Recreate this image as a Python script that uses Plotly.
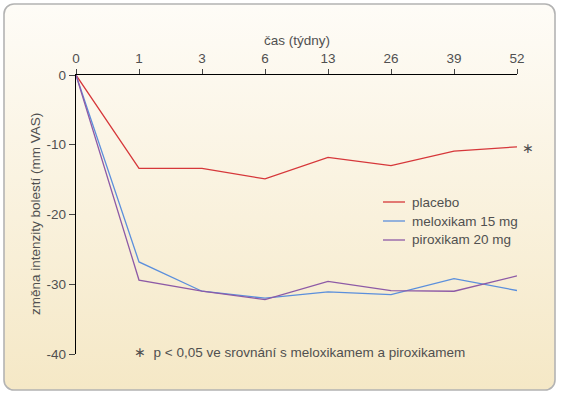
import plotly.graph_objects as go
import urllib.parse

weeks = ["0", "1", "3", "6", "13", "26", "39", "52"]
placebo = [0, -13.4, -13.4, -14.9, -11.8, -13.0, -10.9, -10.3]
meloxikam = [0, -26.8, -31.0, -32.0, -31.1, -31.5, -29.2, -30.9]
piroxikam = [0, -29.4, -31.0, -32.2, -29.6, -30.9, -31.0, -28.8]
series_names = ["placebo", "meloxikam 15 mg", "piroxikam 20 mg"]
colors = ["#d6373a", "#5b8fdc", "#8d5aa6"]
y_ticks = [0, -10, -20, -30, -40]

W, H = 561, 395
L, R, T, B = 76, 517, 75, 354
pw, ph = R - L, B - T

def px(x):
    return (x - L) / pw

def py(y):
    return (B - y) / ph

FONT = "Liberation Sans, Arial, sans-serif"
TXT = "#505050"

fig = go.Figure()
for name, vals, c in zip(series_names, [placebo, meloxikam, piroxikam], colors):
    fig.add_trace(go.Scatter(x=list(range(len(weeks))), y=vals, mode="lines", name=name,
                             line=dict(color=c, width=1.3), cliponaxis=False, showlegend=False,
                             hoverinfo="skip"))

svg = ("<svg xmlns='http://www.w3.org/2000/svg' width='561' height='395'>"
       "<defs><linearGradient id='g' x1='0' y1='0' x2='0' y2='1'>"
       "<stop offset='0' stop-color='#fefcf7'/><stop offset='1' stop-color='#f5e8c6'/>"
       "</linearGradient></defs>"
       "<rect x='4' y='4' width='551' height='386' rx='10' ry='10' fill='url(#g)' stroke='#b3b3b3' stroke-width='1.6'/>"
       "</svg>")
src = "data:image/svg+xml;charset=utf-8," + urllib.parse.quote(svg)

fig.add_layout_image(dict(source=src, xref="paper", yref="paper", x=px(0), y=py(0),
                          sizex=W / pw, sizey=H / ph, xanchor="left", yanchor="top",
                          sizing="stretch", layer="below"))

annotations = []
shapes = []
leg_y = [202, 221, 240]
for name, c, yy in zip(series_names, colors, leg_y):
    shapes.append(dict(type="line", xref="paper", yref="paper", x0=px(383), x1=px(405),
                       y0=py(yy), y1=py(yy), line=dict(color=c, width=1.3)))
    annotations.append(dict(text=name, xref="paper", yref="paper", x=px(410), y=py(yy),
                            xanchor="left", yanchor="middle", showarrow=False,
                            font=dict(family=FONT, size=13.5, color=TXT)))

annotations.append(dict(text="čas (týdny)", xref="paper", yref="paper", x=px(297), y=py(40),
                        xanchor="center", yanchor="middle", showarrow=False,
                        font=dict(family=FONT, size=13.5, color=TXT)))
annotations.append(dict(text="změna intenzity bolestí (mm VAS)", xref="paper", yref="paper",
                        x=px(35), y=py(214), textangle=-90, xanchor="center", yanchor="middle",
                        showarrow=False, font=dict(family=FONT, size=13.5, color=TXT)))
annotations.append(dict(text="∗", x=len(weeks) - 1, y=placebo[-1], xref="x", yref="y",
                        xshift=11, yshift=-1, xanchor="center", yanchor="middle", showarrow=False,
                        font=dict(family=FONT, size=14, color=TXT)))
annotations.append(dict(text="∗  p < 0,05 ve srovnání s meloxikamem a piroxikamem", xref="paper",
                        yref="paper", x=px(132), y=py(352), xanchor="left", yanchor="middle",
                        showarrow=False, font=dict(family=FONT, size=13.5, color=TXT)))

fig.update_layout(
    width=W, height=H,
    margin=dict(l=L, r=W - R, t=T, b=H - B, pad=0),
    paper_bgcolor="white", plot_bgcolor="rgba(0,0,0,0)",
    shapes=shapes, annotations=annotations, showlegend=False, hovermode=False,
    xaxis=dict(side="top", tickmode="array", tickvals=list(range(len(weeks))), ticktext=weeks,
               range=[0, len(weeks) - 1], showline=True, linecolor="black", linewidth=1.3,
               ticks="outside", ticklen=5, tickcolor="#444", tickwidth=1, showgrid=False,
               zeroline=False, tickfont=dict(family=FONT, size=13.5, color=TXT), fixedrange=True),
    yaxis=dict(range=[-40, 0], tickvals=y_ticks, ticktext=[str(v) for v in y_ticks],
               showline=True, linecolor="black", linewidth=1.3, ticks="outside", ticklen=6,
               tickcolor="#444", tickwidth=1, showgrid=False, zeroline=False,
               tickfont=dict(family=FONT, size=13.5, color=TXT), fixedrange=True),
)

fig.write_html("out.html", config={"displayModeBar": False, "staticPlot": True},
               post_script="document.body.style.margin='0';document.body.style.overflow='hidden';")
